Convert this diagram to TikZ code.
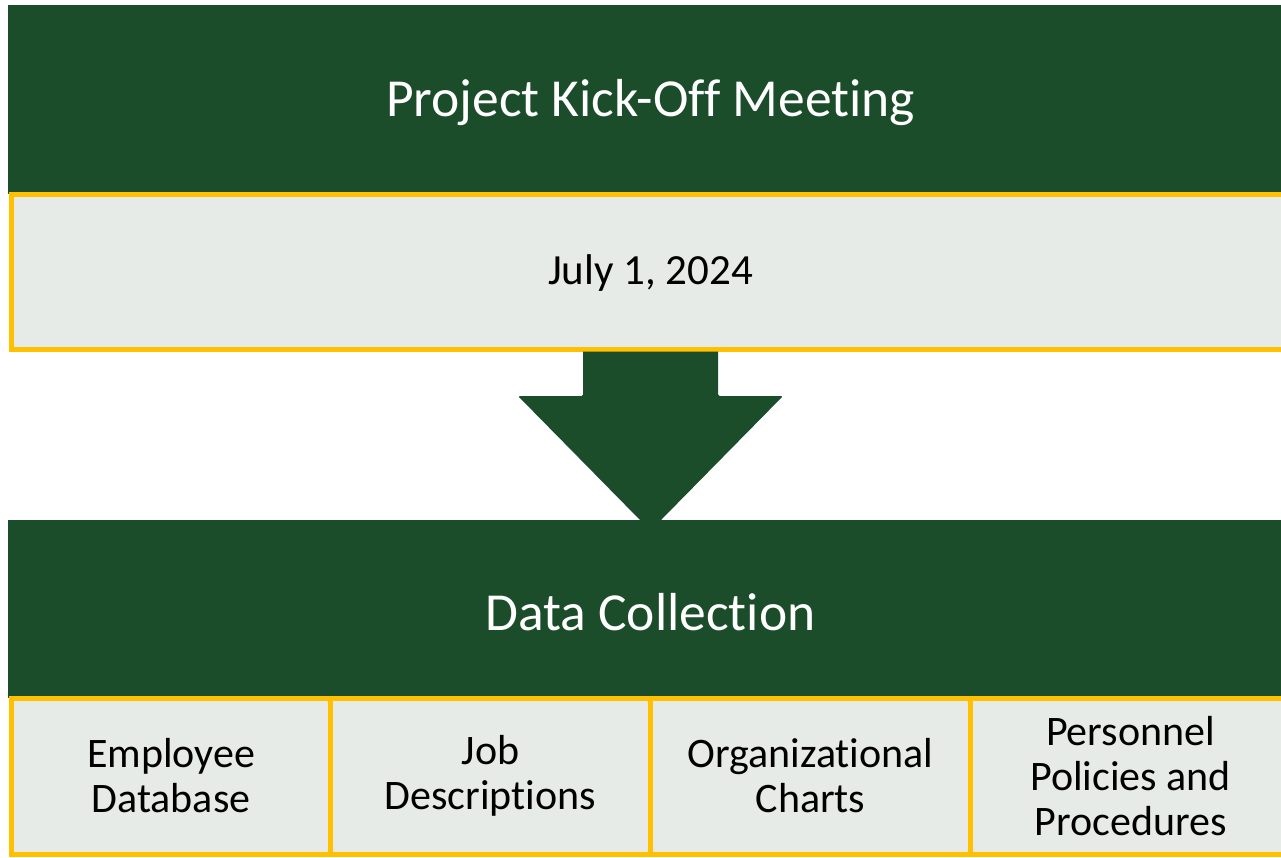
\documentclass[tikz,border=0pt]{standalone}
\usepackage{fontspec}
\setmainfont{Carlito}[RawFeature={-liga;-clig;-calt;-dlig}]
\usetikzlibrary{calc}
\definecolor{dkgreen}{HTML}{1B4D2B}
\definecolor{pale}{HTML}{E7EBE8}
\definecolor{gold}{HTML}{FFC000}
\begin{document}
\begin{tikzpicture}[x=1pt,y=-1pt,
  header/.style={fill=dkgreen, draw=none, rectangle, inner sep=0pt, outer sep=0pt,
    text=white, font=\fontsize{53.5}{60}\selectfont},
  detail/.style={fill=pale, draw=gold, line width=5pt, rectangle, inner sep=0pt, outer sep=0pt,
    text=black, font=\fontsize{42}{45}\selectfont, align=center},
  blockarrow/.style={fill=dkgreen, draw=none}]
\useasboundingbox (0,0) rectangle (1281,857);
\clip (0,0) rectangle (1281,857);
\fill[white] (0,0) rectangle (1281,857);
% top group
\node[header, minimum width=1285pt, minimum height=189pt] (kick) at (650.5,99.5) {\raisebox{-3pt}[\height][\depth]{Project Kick-Off Meeting}};
\node[detail, minimum width=1278pt, minimum height=155pt, font=\fontsize{43}{48}\selectfont] (date) at (650.5,271.5) {\raisebox{-2pt}[\height][\depth]{July 1, 2024}};
% bottom group
\node[header, minimum width=1285pt, minimum height=178pt] (data) at (650.5,609) {\raisebox{-3pt}[\height][\depth]{Data Collection}};
% arrow
\fill[blockarrow, rounded corners=1.5pt]
  ($(date.south)+(-67.5,2.5)$) -- ($(date.south)+(-67.5,47)$) -- ($(date.south)+(-132.5,47)$)
  [sharp corners] -- ($(data.north)+(-10.5,0)$) -- ($(data.north)+(10.5,0)$)
  [rounded corners=1.5pt] -- ($(date.south)+(132.5,47)$) -- ($(date.south)+(67.5,47)$)
  [sharp corners] -- ($(date.south)+(67.5,2.5)$) -- cycle;
% sub boxes
\node[detail, minimum width=319pt, minimum height=156pt] (emp) at (171,776) {Employee\\Database};
\node[detail, minimum width=320pt, minimum height=156pt] (job) at (490.5,776) {Job\\Descriptions};
\node[detail, minimum width=320pt, minimum height=156pt] (org) at (810.5,776) {Organizational\\Charts};
\node[detail, minimum width=320pt, minimum height=156pt] (pers) at (1130.5,776) {Personnel\\Policies and\\Procedures};
\end{tikzpicture}
\end{document}
